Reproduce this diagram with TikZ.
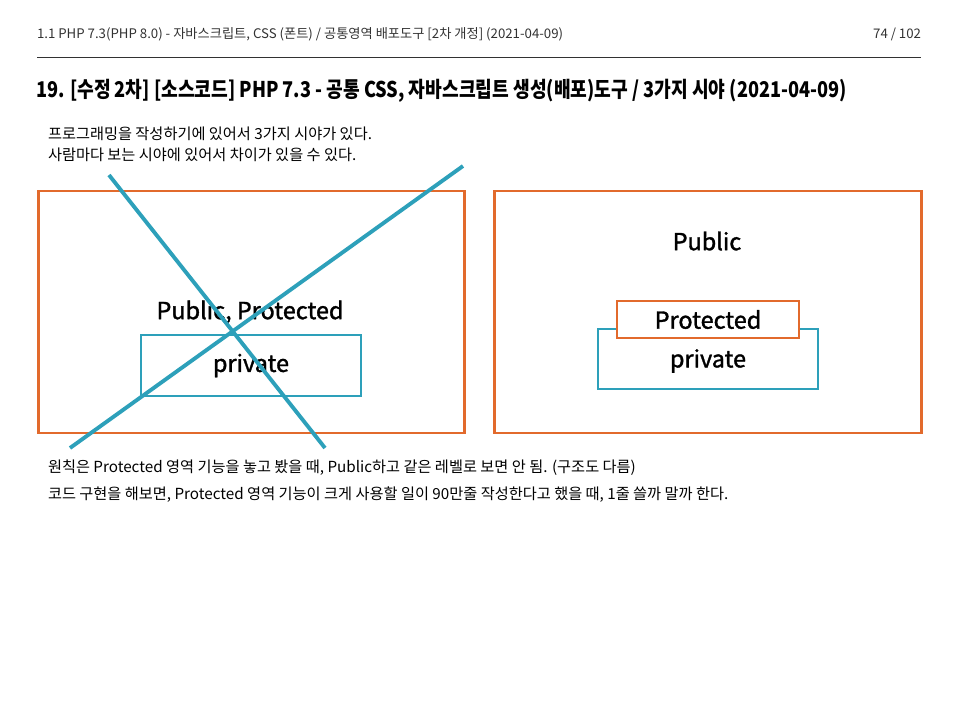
\documentclass[tikz,border=0pt]{standalone}
\usepackage{fontspec}
\setmainfont{Noto Sans CJK KR}
\newfontfamily\semifont{Noto Sans CJK KR}[FakeBold=1.4]
\usetikzlibrary{positioning}
\definecolor{areaorange}{RGB}{226,106,44}
\definecolor{scopeteal}{RGB}{45,160,186}
\definecolor{headgray}{RGB}{50,50,50}

\begin{document}
\begin{tikzpicture}[x=0.03cm, y=-0.03cm, every node/.style={inner sep=0pt, outer sep=0pt}, hdr/.style={font=\fontsize{11.3}{13}\selectfont, text=headgray}, body/.style={font=\fontsize{13}{15}\selectfont, anchor=west}, area/.style={draw=areaorange, line width=2.5pt, minimum width=12.8cm, minimum height=7.26cm}, scopebox/.style={draw=scopeteal, line width=2.5pt, minimum width=6.6cm}, big/.style={font=\semifont\fontsize{20}{22}\selectfont}, strike/.style={scopeteal, line width=3.3pt}]
\useasboundingbox (0,0) rectangle (960,720);
% header
\node[hdr, anchor=west] (head) at (37,34) {1.1 PHP 7.3(PHP 8.0) - 자바스크립트, CSS (폰트) / 공통영역 배포도구 [2차 개정] (2021-04-09)};
\node[hdr, anchor=east] (page) at (921,34) {74 / 102};
\draw[headgray, line width=0.8pt] (37,57) -- (921,57);
\node[anchor=west, font=\fontsize{18.5}{22}\selectfont\bfseries] (title) at (36,91) {\scalebox{0.838}[1]{19. [수정 2차] [소스코드] PHP 7.3 - 공통 CSS, 자바스크립트 생성(배포)도구 / 3가지 시야 (2021-04-09)}};
\node[body] (intro1) at (48,134) {프로그래밍을 작성하기에 있어서 3가지 시야가 있다.};
\node[body] (intro2) at (48,155) {사람마다 보는 시야에 있어서 차이가 있을 수 있다.};
% left view (crossed out)
\node[area] (flat) at (251.5,312) {};
\node[big] (pubprot) at (250,312) {Public, Protected};
\node[scopebox, minimum height=1.83cm, big] (privL) at (251,365.5) {private};
\coordinate (s1a) at (109,175); \coordinate (s1b) at (325,448);
\coordinate (s2a) at (70,448); \coordinate (s2b) at (463,166);
\draw[strike] (s1a) -- (s1b);
\draw[strike] (s2a) -- (s2b);
% right view
\node[area] (nested) at (708,312) {};
\node[big] (pub) at (707,241) {Public};
\node[scopebox, minimum height=1.8cm, big] (privR) at (708,359) {};
\node[big] (privtxt) at (708,361) {private};
\node[draw=areaorange, line width=2.5pt, fill=white, minimum width=5.46cm, minimum height=1.11cm, big] (prot) at (708,319.5) {Protected};
% notes
\node[body] (note1) at (48,468) {원칙은 Protected 영역 기능을 놓고 봤을 때, Public하고 같은 레벨로 보면 안 됨. (구조도 다름)};
\node[body] (note2) at (48,495) {코드 구현을 해보면, Protected 영역 기능이 크게 사용할 일이 90만줄 작성한다고 했을 때, 1줄 쓸까 말까 한다.};
\end{tikzpicture}
\end{document}
